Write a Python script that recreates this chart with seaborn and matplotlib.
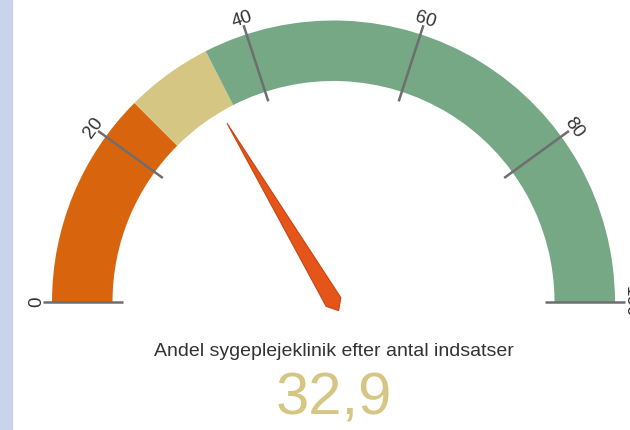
import numpy as np
import matplotlib
matplotlib.use("Agg")
import matplotlib.pyplot as plt
from matplotlib.patches import Wedge, Polygon, Rectangle
import seaborn as sns

# gauge data
band_starts = [0, 25, 35]
band_ends = [25, 35, 100]
band_colors = ["#d9640e", "#d5c683", "#76a886"]
tick_values = [0, 20, 40, 60, 80, 100]
tick_labels = ["0", "20", "40", "60", "80", "100"]
value = 32.9
value_text = "32,9"
title = "Andel sygeplejeklinik efter antal indsatser"

sns.set_theme(style="white")
plt.rcParams['font.family'] = ['Liberation Sans', 'DejaVu Sans']

R_OUT, R_IN = 281.5, 221.0  # pixels


def ang(v):
    """value (0-100) -> angle in degrees, 0 on the left, 100 on the right"""
    return 180.0 - 1.8 * v


fig = plt.figure(figsize=(6.3, 4.3), dpi=100)
fig.patches.append(Rectangle((0, 0), 12 / 630, 1, transform=fig.transFigure,
                             color="#c9d3ea", zorder=0))
ax = fig.add_axes([0, 0, 1, 1])
ax.set_xlim(-333.5, 296.5)
ax.set_ylim(-128, 302)
ax.set_aspect("equal")
ax.axis("off")

for a, b, c in zip(band_starts, band_ends, band_colors):
    ax.add_patch(Wedge((0, 0), R_OUT, ang(b), ang(a), width=R_OUT - R_IN,
                       facecolor=c, edgecolor="none"))

for v, lab in zip(tick_values, tick_labels):
    t = np.deg2rad(ang(v))
    ax.plot([211 * np.cos(t), 291 * np.cos(t)], [211 * np.sin(t), 291 * np.sin(t)],
            color="#6e6e6e", lw=1.8, solid_capstyle="butt")
    ax.text(292.5 * np.cos(t), 292.5 * np.sin(t), lab, rotation=ang(v) - 90,
            rotation_mode="anchor", ha="center", va="baseline",
            fontsize=13.5, color="#333333")

# needle
t = np.deg2rad(ang(value))
d = np.array([np.cos(t), np.sin(t)])
p = np.array([-np.sin(t), np.cos(t)])
pts = [208 * d, 8.5 * p, -10 * d, -8.5 * p]
ax.add_patch(Polygon(pts, closed=True, facecolor="#e55419", edgecolor="#c94412",
                     lw=0.8, zorder=5))

ax.text(0, -50, title, ha="center", va="center", fontsize=14, color="#333333")
ax.text(0, -97, value_text, ha="center", va="center", fontsize=43, color="#d5c683")

fig.savefig("out.png", dpi=100)
